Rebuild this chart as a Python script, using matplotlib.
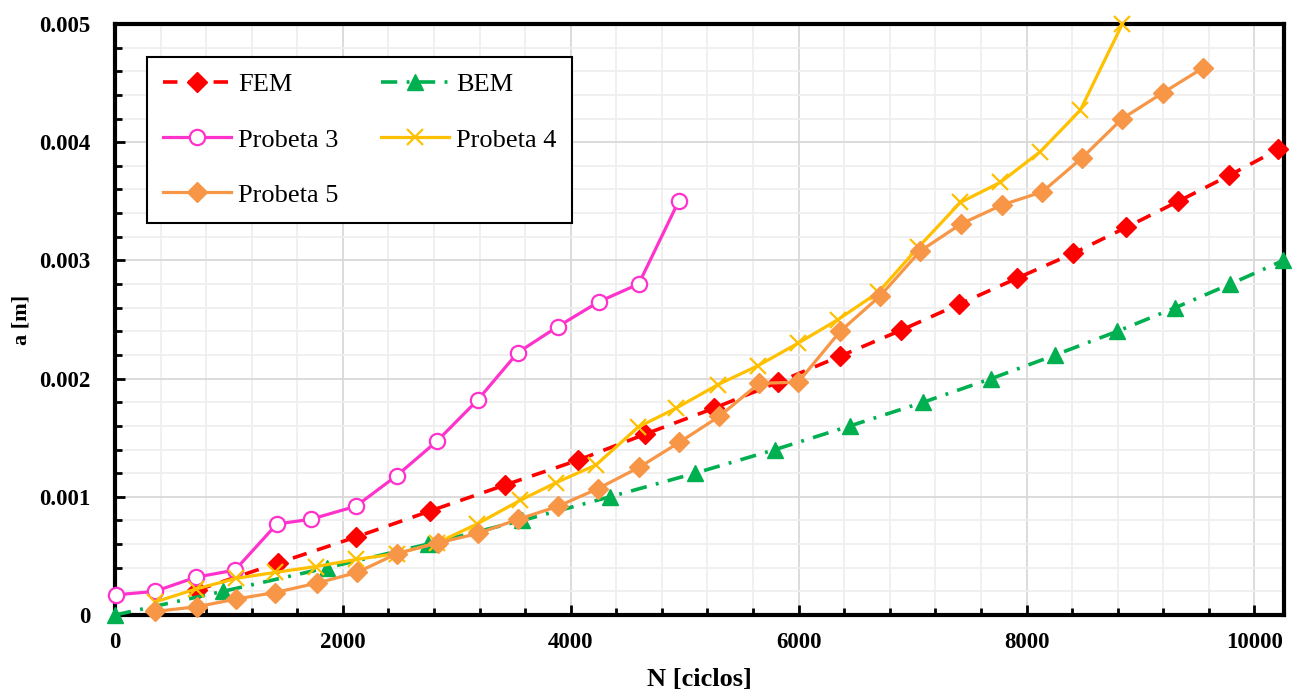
import matplotlib
matplotlib.use("Agg")
import matplotlib.pyplot as plt
from matplotlib.ticker import MultipleLocator, FuncFormatter

plt.rcParams['font.family'] = ['Liberation Serif', 'DejaVu Serif']

# ---- data ----
fem_n = [720, 1431, 2116, 2766, 3424, 4065, 4653, 5259, 5821, 6365, 6901, 7410,
         7919, 8411, 8876, 9333, 9781, 10211]
fem_a = [0.00021, 0.00044, 0.00066, 0.00088, 0.00110, 0.00131, 0.00153, 0.00175,
         0.00197, 0.00219, 0.00241, 0.00263, 0.00285, 0.00306, 0.00328, 0.00350,
         0.00372, 0.00394]

bem_n = [0, 948, 1861, 2748, 3573, 4346, 5092, 5795, 6453, 7094, 7691, 8253,
         8797, 9306, 9789, 10255]
bem_a = [0.0, 0.0002, 0.0004, 0.0006, 0.0008, 0.0010, 0.0012, 0.0014, 0.0016,
         0.0018, 0.0020, 0.0022, 0.0024, 0.0026, 0.0028, 0.0030]

p3_n = [5, 351, 711, 1053, 1421, 1719, 2114, 2474, 2825, 3184, 3535, 3886, 4246,
        4596, 4947]
p3_a = [0.00017, 0.00020, 0.00032, 0.00038, 0.00077, 0.00081, 0.00092, 0.00118,
        0.00147, 0.00182, 0.00222, 0.00244, 0.00265, 0.00280, 0.00350]

p4_n = [351, 711, 1062, 1404, 1764, 2116, 2476, 2827, 3178, 3556, 3872, 4223,
        4592, 4925, 5294, 5645, 5996, 6347, 6699, 7050, 7419, 7770, 8121, 8472, 8841]
p4_a = [0.00011, 0.00022, 0.00031, 0.00036, 0.00041, 0.00047, 0.00052, 0.00061,
        0.00077, 0.00097, 0.00112, 0.00127, 0.00159, 0.00175, 0.00195, 0.00211,
        0.00230, 0.00250, 0.00273, 0.00311, 0.00349, 0.00366, 0.00392, 0.00427,
        0.00500]

p5_n = [351, 720, 1062, 1404, 1773, 2125, 2476, 2836, 3187, 3538, 3889, 4241,
        4601, 4952, 5303, 5654, 5996, 6365, 6716, 7068, 7428, 7788, 8139, 8490,
        8841, 9201, 9552]
p5_a = [0.00003, 0.00007, 0.000135, 0.00019, 0.00027, 0.00036, 0.00052, 0.00061,
        0.00069, 0.00081, 0.00092, 0.00107, 0.00125, 0.00146, 0.00168, 0.00196,
        0.00197, 0.00240, 0.00270, 0.00308, 0.00331, 0.00347, 0.00358, 0.00387,
        0.00420, 0.00442, 0.00463]

x_ticks = [0, 2000, 4000, 6000, 8000, 10000]
y_ticks = [0, 0.001, 0.002, 0.003, 0.004, 0.005]

# ---- figure ----
fig = plt.figure(figsize=(12.94, 6.92), dpi=100)
ax = fig.add_axes([115/1294, 1-615/692, (1284-115)/1294, (615-24)/692])

l_fem, = ax.plot(fem_n, fem_a, color='#FF0000', lw=2.6, ls=(0, (4, 3)),
                 marker='D', ms=10, mec='#FF0000', mfc='#FF0000', label='FEM',
                 clip_on=False, zorder=3)
l_bem, = ax.plot(bem_n, bem_a, color='#00B050', lw=2.6, ls=(0, (4.5, 2.6, 0.8, 2.6)),
                 marker='^', ms=12, mec='#00B050', mfc='#00B050', label='BEM',
                 clip_on=False, zorder=3)
l_p3, = ax.plot(p3_n, p3_a, color='#FF33CC', lw=2.3, marker='o', ms=11,
                mfc='white', mec='#FF33CC', mew=1.6, label='Probeta 3',
                clip_on=False, zorder=4)
l_p4, = ax.plot(p4_n, p4_a, color='#FFC000', lw=2.3, marker='x', ms=12,
                mec='#FFC000', mew=1.6, label='Probeta 4', clip_on=False, zorder=5)
l_p5, = ax.plot(p5_n, p5_a, color='#F79646', lw=2.3, marker='D', ms=10,
                mfc='#F79646', mec='#F79646', label='Probeta 5', clip_on=False,
                zorder=6)

ax.set_xlim(0, 10260)
ax.set_ylim(0, 0.005)
ax.set_xticks(x_ticks)
ax.set_yticks(y_ticks)
ax.xaxis.set_minor_locator(MultipleLocator(400))
ax.yaxis.set_minor_locator(MultipleLocator(0.0002))
ax.yaxis.set_major_formatter(FuncFormatter(lambda v, p: '0' if abs(v) < 1e-12 else f'{v:.3f}'))
ax.xaxis.set_major_formatter(FuncFormatter(lambda v, p: f'{int(round(v))}'))

ax.grid(which='major', color='#D9D9D9', lw=1.3, zorder=0)
ax.grid(which='minor', color='#EFEFEF', lw=1.3, zorder=0)
ax.set_axisbelow(True)

for s in ax.spines.values():
    s.set_linewidth(3.0)
    s.set_color('black')

ax.tick_params(which='both', direction='in', top=False, right=False, width=2.0)
ax.tick_params(which='major', length=7, labelsize=16.5)
ax.tick_params(which='minor', length=5)
ax.tick_params(axis='y', which='major', pad=18)
ax.tick_params(axis='x', which='major', pad=12)
for lab in ax.get_xticklabels() + ax.get_yticklabels():
    lab.set_fontweight('bold')

ax.set_xlabel('N [ciclos]', fontsize=19, fontweight='bold', labelpad=11)
ax.set_ylabel('a [m]', fontsize=16, fontweight='bold', labelpad=5)

handles = [l_fem, l_p3, l_p5, l_bem, l_p4]
leg = ax.legend(handles=handles, labels=[h.get_label() for h in handles],
                ncol=2, loc='upper left', bbox_to_anchor=(0.0274, 0.944),
                borderaxespad=0, fontsize=19, numpoints=1, handlelength=2.6,
                handletextpad=0.25, columnspacing=1.6, labelspacing=1.2,
                borderpad=0.6, fancybox=False, framealpha=1, edgecolor='black')
leg.get_frame().set_linewidth(1.5)
leg.set_zorder(10)

fig.savefig('out.png', dpi=100)
